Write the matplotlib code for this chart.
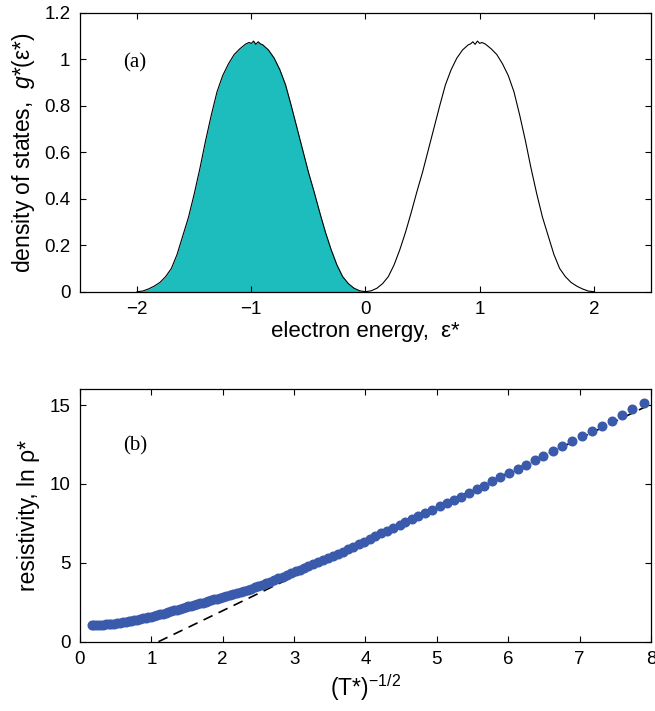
import matplotlib
matplotlib.use('Agg')
import matplotlib.pyplot as plt
from matplotlib.ticker import FormatStrFormatter

plt.rcParams['font.family'] = ['Liberation Sans', 'DejaVu Sans']
plt.rcParams['mathtext.fontset'] = 'custom'
plt.rcParams['mathtext.rm'] = 'Liberation Sans'
plt.rcParams['mathtext.it'] = 'Liberation Sans:italic'

# (a) density of states, lower (filled) band
eps_band = [-2.00, -1.95, -1.90, -1.85, -1.80, -1.75, -1.70, -1.65, -1.60, -1.55,
            -1.50, -1.45, -1.40, -1.35, -1.30, -1.25, -1.20, -1.15, -1.10, -1.05,
            -1.02, -1.00, -0.98, -0.96, -0.94, -0.92, -0.90, -0.85, -0.80, -0.75,
            -0.70, -0.65, -0.60, -0.55, -0.50, -0.45, -0.40, -0.35, -0.30, -0.25,
            -0.20, -0.15, -0.10, -0.05, 0.00]
g_band = [0.000, 0.003, 0.012, 0.024, 0.040, 0.065, 0.100, 0.160, 0.240, 0.320,
          0.420, 0.530, 0.650, 0.760, 0.860, 0.930, 0.980, 1.020, 1.045, 1.065,
          1.072, 1.068, 1.078, 1.064, 1.075, 1.066, 1.062, 1.040, 1.005, 0.955,
          0.890, 0.800, 0.705, 0.610, 0.515, 0.430, 0.340, 0.255, 0.180, 0.115,
          0.065, 0.035, 0.015, 0.004, 0.000]
# upper band is the mirror image
eps_upper = [-e for e in eps_band[::-1]]
g_upper = g_band[::-1]

# (b) resistivity vs (T*)^-1/2
x_pts = [0.17, 0.20, 0.24, 0.28, 0.32, 0.36, 0.40, 0.44, 0.48, 0.52,
         0.56, 0.60, 0.64, 0.68, 0.72, 0.76, 0.80, 0.84, 0.88, 0.92,
         0.96, 1.00, 1.04, 1.08, 1.12, 1.16, 1.20, 1.24, 1.28, 1.32,
         1.36, 1.40, 1.44, 1.48, 1.52, 1.56, 1.60, 1.64, 1.68, 1.72,
         1.76, 1.80, 1.84, 1.88, 1.92, 1.96, 2.00, 2.05, 2.10, 2.15,
         2.20, 2.25, 2.30, 2.35, 2.40, 2.45, 2.50, 2.55, 2.60, 2.66,
         2.72, 2.78, 2.84, 2.90, 2.96, 3.02, 3.08, 3.14, 3.20, 3.26,
         3.33, 3.40, 3.47, 3.54, 3.61, 3.69, 3.76, 3.83, 3.91, 3.98,
         4.06, 4.14, 4.22, 4.30, 4.39, 4.48, 4.56, 4.65, 4.74, 4.84,
         4.93, 5.04, 5.14, 5.24, 5.34, 5.45, 5.56, 5.66, 5.77, 5.89,
         6.01, 6.13, 6.25, 6.37, 6.49, 6.62, 6.75, 6.89, 7.03, 7.17,
         7.31, 7.45, 7.60, 7.74, 7.90]
ln_rho = [1.03, 1.04, 1.05, 1.06, 1.08, 1.09, 1.11, 1.13, 1.15, 1.18,
          1.20, 1.23, 1.26, 1.29, 1.32, 1.36, 1.39, 1.43, 1.47, 1.51,
          1.55, 1.59, 1.64, 1.68, 1.73, 1.78, 1.83, 1.88, 1.93, 1.98,
          2.03, 2.08, 2.13, 2.18, 2.23, 2.28, 2.33, 2.38, 2.43, 2.48,
          2.53, 2.58, 2.63, 2.68, 2.73, 2.78, 2.83, 2.89, 2.95, 3.01,
          3.08, 3.15, 3.22, 3.29, 3.37, 3.45, 3.53, 3.61, 3.70, 3.80,
          3.91, 4.02, 4.13, 4.24, 4.35, 4.46, 4.57, 4.68, 4.79, 4.91,
          5.03, 5.16, 5.29, 5.41, 5.56, 5.71, 5.87, 6.03, 6.19, 6.34,
          6.51, 6.68, 6.87, 7.04, 7.23, 7.39, 7.58, 7.77, 7.96, 8.15,
          8.36, 8.57, 8.76, 8.97, 9.20, 9.44, 9.67, 9.90, 10.17, 10.42,
          10.70, 10.97, 11.23, 11.52, 11.79, 12.09, 12.38, 12.72, 13.01, 13.37,
          13.69, 14.02, 14.38, 14.74, 15.12]
fit_x = [1.10, 8.0]
fit_y = [0.0, 15.06]

fig = plt.figure(figsize=(6.55, 7.11), dpi=100)

ax1 = fig.add_axes([0.1221, 0.5897, 0.8718, 0.3924])
ax1.fill_between(eps_band, g_band, 0, color='#1dbdbd', linewidth=0)
ax1.plot(eps_band, g_band, color='black', lw=0.8)
ax1.plot(eps_upper, g_upper, color='black', lw=0.8)
ax1.set_xlim(-2.5, 2.5)
ax1.set_ylim(0, 1.2)
ax1.set_xticks([-2, -1, 0, 1, 2])
ax1.set_yticks([0, 0.2, 0.4, 0.6, 0.8, 1.0, 1.2])
ax1.yaxis.set_major_formatter(FormatStrFormatter('%g'))
ax1.set_xlabel('electron energy,  ε*', fontsize=16, labelpad=2)
ax1.set_ylabel('density of states,  $g$*(ε*)', fontsize=16.5, labelpad=5)
ax1.text(-2.02, 0.985, '(a)', fontsize=15, family='Liberation Serif',
         ha='center', va='center')

ax2 = fig.add_axes([0.1221, 0.0975, 0.8718, 0.355])
ax2.plot(fit_x, fit_y, color='black', lw=1.2, dashes=(6, 4))
ax2.plot(x_pts, ln_rho, 'o', color='#3a5aab', ms=6.2, mec='#3a5aab')
ax2.set_xlim(0, 8)
ax2.set_ylim(0, 16)
ax2.set_xticks(range(0, 9))
ax2.set_yticks([0, 5, 10, 15])
ax2.set_xlabel('(T*)$^{-1/2}$', fontsize=16.5, labelpad=3)
ax2.set_ylabel('resistivity, ln ρ*', fontsize=16.5, labelpad=7)
ax2.text(0.78, 12.4, '(b)', fontsize=15, family='Liberation Serif',
         ha='center', va='center')

for ax in (ax1, ax2):
    ax.tick_params(direction='in', top=True, right=True, length=4,
                   width=0.8, labelsize=13.5, pad=7)
    for s in ax.spines.values():
        s.set_linewidth(0.9)

fig.savefig('out.png', dpi=100)
